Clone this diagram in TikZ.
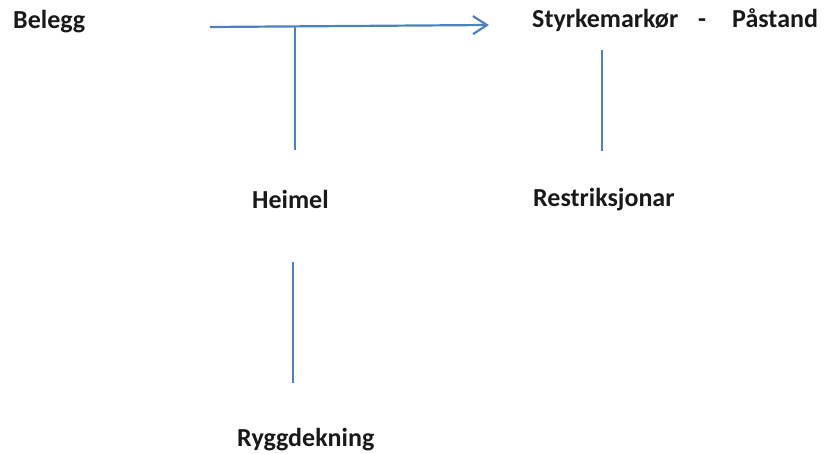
\documentclass[tikz,border=0pt]{standalone}
\usepackage{fontspec}
\setmainfont{Carlito}
\usetikzlibrary{arrows.meta}
\definecolor{linkblue}{RGB}{79,129,189}
\begin{document}
\begin{tikzpicture}[x=1pt,y=-1pt,every node/.style={font=\bfseries\fontsize{26}{31}\selectfont,inner sep=0pt,anchor=base west,text=black!90}]
\useasboundingbox (0,0) rectangle (826,454);
\node (belegg) at (13,29) {Belegg};
\node (styrke) at (532,28) {Styrkemarkør\hspace{20pt}-\hspace{26pt}Påstand};
\node (heimel) at (252,208) {Heimel};
\node (restr) at (533,207) {Restriksjonar};
\node (rygg) at (237,446) {Ryggdekning};
% free ends of the blue lines
\coordinate (a0) at (210,27);
\coordinate (a1) at (489,25);
\coordinate (t0) at (295,27);
\coordinate (t1) at (295,150);
\coordinate (h0) at (293,262);
\coordinate (h1) at (293,383);
\coordinate (s0) at (602,50);
\coordinate (s1) at (602,151);
\draw[linkblue,line width=2.2pt,-{Straight Barb[length=14pt,width=18pt,line width=2.2pt]}] (a0) -- (a1);
\draw[linkblue,line width=1.8pt] (t0) -- (t1);
\draw[linkblue,line width=1.8pt] (h0) -- (h1);
\draw[linkblue,line width=1.8pt] (s0) -- (s1);
\end{tikzpicture}
\end{document}
